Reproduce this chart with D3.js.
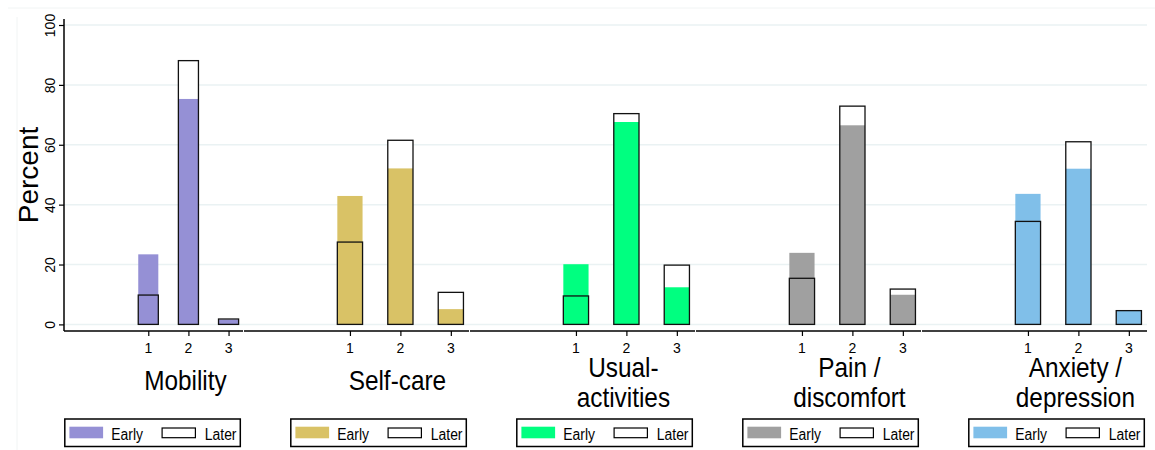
<!DOCTYPE html>
<html>
<head>
<meta charset="utf-8">
<script src="https://cdn.jsdelivr.net/npm/d3@7"></script>
<style>
  html, body { margin: 0; padding: 0; background: #fff; }
  svg { display: block; }
  text { font-family: "Liberation Sans", Arial, Helvetica, sans-serif; fill: #000; }
</style>
</head>
<body>
<svg id="chart" width="1155" height="450"></svg>
<script>
// ---- data ----
const levels = [1, 2, 3];
const dimensions = ["Mobility", "Self-care", "Usual-activities", "Pain / discomfort", "Anxiety / depression"];
const titleLines = [["Mobility"], ["Self-care"], ["Usual-", "activities"], ["Pain /", "discomfort"], ["Anxiety /", "depression"]];
const earlyMobility = [23.4, 75.3, 1.6];
const laterMobility = [9.8, 88.1, 1.8];
const earlySelfCare = [42.9, 52.1, 5.1];
const laterSelfCare = [27.5, 61.5, 10.7];
const earlyUsual = [20.1, 67.6, 12.4];
const laterUsual = [9.5, 70.4, 19.8];
const earlyPain = [23.9, 66.5, 9.9];
const laterPain = [15.4, 72.9, 11.8];
const earlyAnxiety = [43.6, 52.0, 4.6];
const laterAnxiety = [34.4, 61.0, 4.6];
const yTicks = [0, 20, 40, 60, 80, 100];
const seriesNames = ["Early", "Later"];
const colors = ["#9590d5", "#d9c266", "#00ff80", "#a0a0a0", "#80bfe9"];

const earlyAll = [earlyMobility, earlySelfCare, earlyUsual, earlyPain, earlyAnxiety];
const laterAll = [laterMobility, laterSelfCare, laterUsual, laterPain, laterAnxiety];

// ---- layout ----
const svg = d3.select("#chart");
const W = 1155, H = 450;
const outerLeft = 17.5, panelW = 226;
const yTop = 25, yZero = 324.4, axisY = 331;
const y = d3.scaleLinear().domain([0, 100]).range([yZero, yTop]);
const hScale = 0.87;

// faint outer frame lines
svg.append("line").attr("x1", 8).attr("x2", W).attr("y1", 8).attr("y2", 8)
  .attr("stroke", "#f1f4f4").attr("stroke-width", 1);
svg.append("line").attr("x1", 17).attr("x2", 17).attr("y1", 17).attr("y2", H)
  .attr("stroke", "#f1f4f4").attr("stroke-width", 1);

const plotLeft0 = 64;
const plotRightAll = outerLeft + panelW * dimensions.length - 0.5;

// gridlines
svg.append("g").selectAll("line").data(yTicks).join("line")
  .attr("x1", plotLeft0).attr("x2", plotRightAll)
  .attr("y1", d => y(d)).attr("y2", d => y(d))
  .attr("stroke", "#eaf2f3").attr("stroke-width", 1.5);

// y axis
const yAxis = d3.axisLeft(y).tickValues(yTicks).tickSize(5).tickPadding(4);
const gy = svg.append("g").attr("transform", `translate(${plotLeft0},0)`).call(yAxis);
gy.select(".domain").remove();
gy.selectAll(".tick line").attr("stroke", "#000").attr("stroke-width", 1.2);
gy.selectAll(".tick text")
  .attr("font-size", 14)
  .attr("text-anchor", "middle")
  .attr("x", null).attr("dy", null)
  .attr("transform", "translate(-9,0) rotate(-90)");
svg.append("line").attr("x1", plotLeft0).attr("x2", plotLeft0)
  .attr("y1", 19).attr("y2", axisY).attr("stroke", "#000").attr("stroke-width", 1.5);

svg.append("text")
  .attr("transform", `translate(38,175) rotate(-90)`)
  .attr("text-anchor", "middle")
  .attr("font-size", 28)
  .text("Percent");

function hText(g, x, yy, str, size, anchor, sx) {
  return g.append("text")
    .attr("transform", `translate(${x},${yy}) scale(${sx || hScale},1)`)
    .attr("text-anchor", anchor || "middle")
    .attr("font-size", size)
    .text(str);
}

dimensions.forEach((dim, i) => {
  const pl = i === 0 ? plotLeft0 : outerLeft + panelW * i + 0.5;
  const pr = outerLeft + panelW * (i + 1) - 0.5;
  const x = d3.scaleLinear().domain([-1.1, 3.36]).range([pl, pr]);
  const bw = x(0.5) - x(0);
  const g = svg.append("g");
  const early = earlyAll[i], later = laterAll[i];

  // later bars background (white fill)
  g.selectAll("rect.lbg").data(levels).join("rect").attr("class", "lbg")
    .attr("x", d => x(d) - bw / 2).attr("width", bw)
    .attr("y", (d, k) => y(later[k])).attr("height", (d, k) => y(0) - y(later[k]))
    .attr("fill", "#fff");
  // early bars
  g.selectAll("rect.e").data(levels).join("rect").attr("class", "e")
    .attr("x", d => x(d) - bw / 2).attr("width", bw)
    .attr("y", (d, k) => y(early[k])).attr("height", (d, k) => y(0) - y(early[k]))
    .attr("fill", colors[i]);
  // later outlines
  g.selectAll("rect.l").data(levels).join("rect").attr("class", "l")
    .attr("x", d => x(d) - bw / 2).attr("width", bw)
    .attr("y", (d, k) => y(later[k])).attr("height", (d, k) => y(0) - y(later[k]))
    .attr("fill", "none").attr("stroke", "#111").attr("stroke-width", 1.3);

  // x axis
  const xAxis = d3.axisBottom(x).tickValues(levels).tickSize(5).tickFormat(d3.format("d"));
  const gx = g.append("g").attr("transform", `translate(0,${axisY})`).call(xAxis);
  gx.select(".domain").remove();
  gx.selectAll(".tick line").attr("stroke", "#000").attr("stroke-width", 1.2);
  gx.selectAll(".tick text").remove();
  levels.forEach(d => hText(g, x(d), 352.5, String(d), 14, "middle", 1));
  g.append("line").attr("x1", pl).attr("x2", pr).attr("y1", axisY).attr("y2", axisY)
    .attr("stroke", "#000").attr("stroke-width", 1.5);

  // title
  const lines = titleLines[i];
  const tx = x(2) - 3;
  if (lines.length === 1) {
    hText(g, tx, 390, lines[0], 28);
  } else {
    hText(g, tx, 377, lines[0], 28);
    hText(g, tx, 407, lines[1], 28);
  }

  // legend
  const lw = 175.5, lh = 27.5;
  const L = pr - 2.7 - lw, T = 419;
  g.append("rect").attr("x", L).attr("y", T).attr("width", lw).attr("height", lh)
    .attr("fill", "#fff").attr("stroke", "#000").attr("stroke-width", 1.5);
  g.append("rect").attr("x", L + 4.6).attr("y", 426.7).attr("width", 33.7).attr("height", 11.6)
    .attr("fill", colors[i]);
  hText(g, L + 46.5, 440, seriesNames[0], 16, "start");
  g.append("rect").attr("x", L + 97.3).attr("y", 428).attr("width", 33.3).attr("height", 9.7)
    .attr("fill", "#fff").attr("stroke", "#000").attr("stroke-width", 1.2);
  hText(g, L + 140, 440, seriesNames[1], 16, "start");
});
</script>
</body>
</html>
